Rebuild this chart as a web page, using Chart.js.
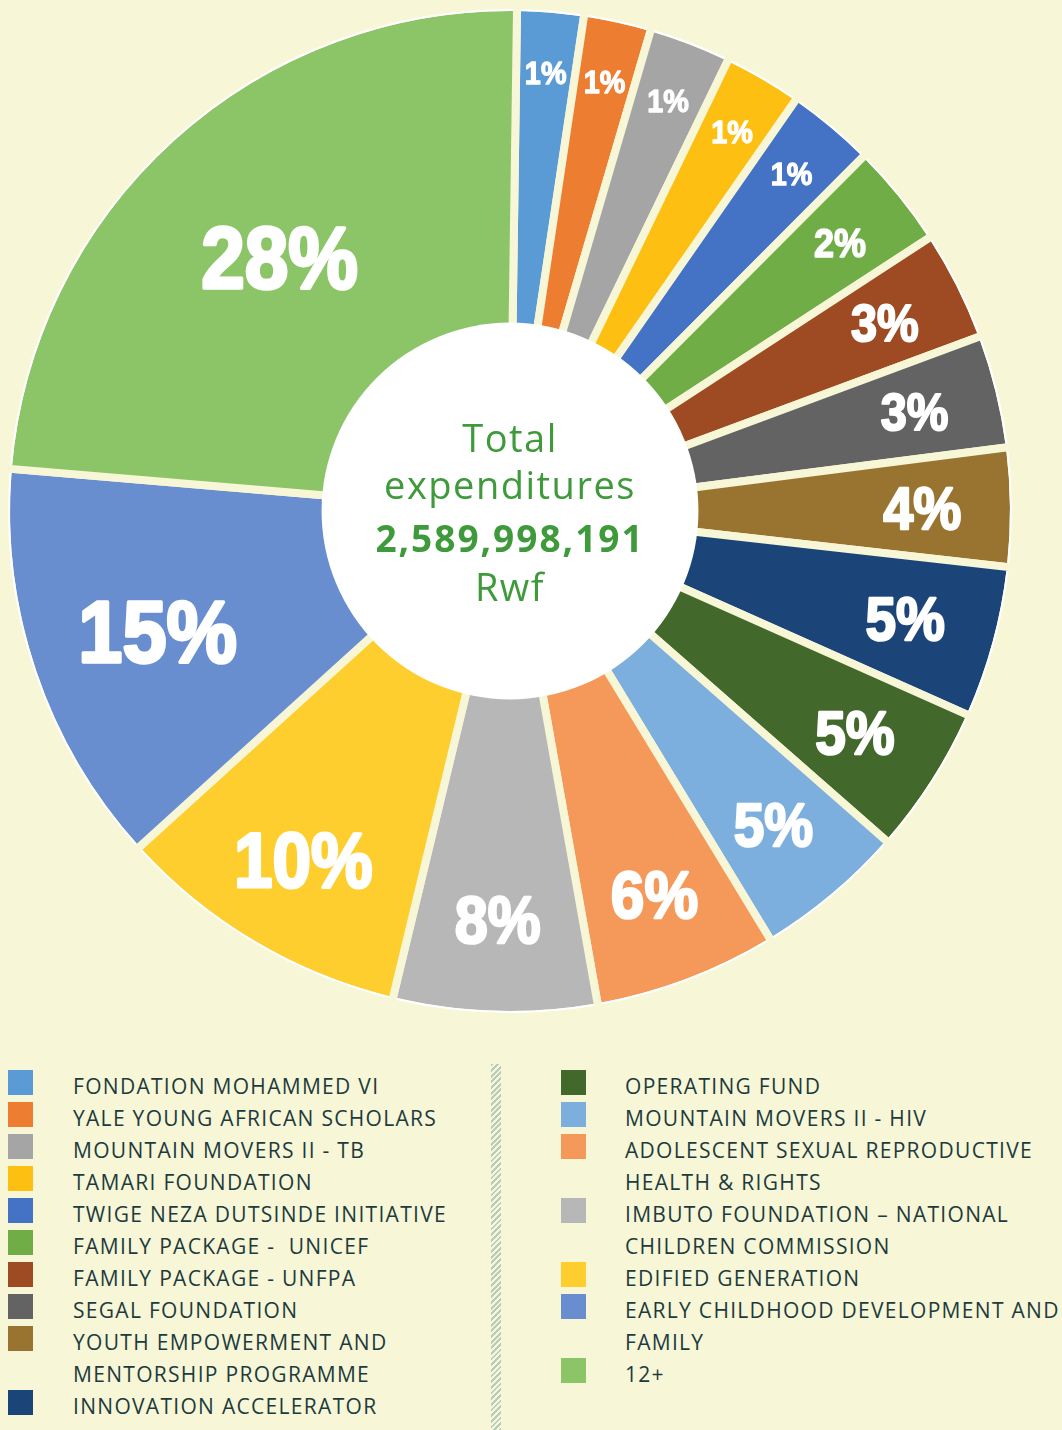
<!DOCTYPE html>
<html><head><meta charset="utf-8">
<script src="https://cdn.jsdelivr.net/npm/chart.js@4.4.1/dist/chart.umd.min.js"></script>
<style>
html,body{margin:0;padding:0;background:#F7F6D6;}
body{width:1062px;height:1430px;position:relative;overflow:hidden;font-family:"Open Sans",sans-serif;}
#wrap{position:absolute;left:0;top:0;width:1062px;height:1022px;}
.sq{position:absolute;width:25px;height:25px;}
.lt{position:absolute;font-size:21px;line-height:21px;color:#1d3b3e;white-space:pre;letter-spacing:1.3px;}
#divider{position:absolute;left:491px;top:1064px;width:10px;height:366px;
  background:repeating-linear-gradient(135deg,#b5cdbd 0 2px,rgba(0,0,0,0) 2px 4px);}
</style></head><body>
<div id="wrap"><canvas id="c" width="1062" height="1022"></canvas></div>
<div id="legend"></div>
<div id="divider"></div>
<script>
// ---- data ----
const categories = [
  "FONDATION MOHAMMED VI",
  "YALE YOUNG AFRICAN SCHOLARS",
  "MOUNTAIN MOVERS II - TB",
  "TAMARI FOUNDATION",
  "TWIGE NEZA DUTSINDE INITIATIVE",
  "FAMILY PACKAGE -  UNICEF",
  "FAMILY PACKAGE - UNFPA",
  "SEGAL FOUNDATION",
  "YOUTH EMPOWERMENT AND\nMENTORSHIP PROGRAMME",
  "INNOVATION ACCELERATOR",
  "OPERATING FUND",
  "MOUNTAIN MOVERS II - HIV",
  "ADOLESCENT SEXUAL REPRODUCTIVE\nHEALTH & RIGHTS",
  "IMBUTO FOUNDATION \u2013 NATIONAL\nCHILDREN COMMISSION",
  "EDIFIED GENERATION",
  "EARLY CHILDHOOD DEVELOPMENT AND\nFAMILY",
  "12+"
];
// share of total expenditures (%), as drawn
const shares = [2.14, 2.17, 2.64, 2.50, 2.81, 3.33, 3.53, 3.64, 3.81, 4.89, 4.78, 4.86, 5.89, 6.56, 9.53, 13.06, 23.89];
// printed labels
const pctLabels = ["1%","1%","1%","1%","1%","2%","3%","3%","4%","5%","5%","5%","6%","8%","10%","15%","28%"];
const colors = ["#5B9BD5","#ED7D31","#A5A5A5","#FDC012","#4472C4","#70AD47","#9E4A22","#636363","#997430",
  "#1B4479","#43682B","#7CAFDD","#F4995A","#B7B7B7","#FECE2F","#698ED0","#8CC468"];
const totalLines = ["Total","expenditures"];
const totalAmount = "2,589,998,191";
const totalUnit = "Rwf";
const leftCount = 10;

// ---- styles ----
const BG = "#F7F6D6";
const GREEN = "#3F9A3B";
const BW = 8;
const labelSize = {1:32, 2:40, 3:52, 4:60, 5:61, 6:67, 8:66, 10:77, 15:88, 28:87};
function radiusFrac(deg){
  const pts=[[0,0.88],[10,0.88],[14,0.82],[30,0.815],[35,0.81],[47,0.744],[86,0.686],[360,0.686]];
  for(let i=1;i<pts.length;i++){
    if(deg<=pts[i][0]){const [x0,y0]=pts[i-1],[x1,y1]=pts[i];return y0+(y1-y0)*(deg-x0)/(x1-x0);}
  }
  return 0.686;
}

const decor = {
  id:'decor',
  afterDatasetsDraw(chart){
    const ctx = chart.ctx;
    const arcs = chart.getDatasetMeta(0).data;
    ctx.save();
    // thin white outer rim on each slice
    arcs.forEach(a=>{
      const r = a.outerRadius - BW/2 + 1;
      const d = (BW/2)/r;
      ctx.beginPath();
      ctx.arc(a.x, a.y, r, a.startAngle + d, a.endAngle - d);
      ctx.strokeStyle = '#ffffff'; ctx.lineWidth = 2; ctx.stroke();
    });
    // white hole
    const a0 = arcs[0];
    ctx.beginPath();
    ctx.arc(a0.x, a0.y, a0.innerRadius + 7, 0, Math.PI*2);
    ctx.fillStyle = '#ffffff'; ctx.fill();
    // percentage labels
    arcs.forEach((a,i)=>{
      const txt = pctLabels[i];
      const p = parseInt(txt,10);
      const size = labelSize[p] || 60;
      const mid = (a.startAngle + a.endAngle)/2;
      const deg = (a.endAngle - a.startAngle)*180/Math.PI;
      const R = (a.outerRadius - BW/2) * radiusFrac(deg);
      const cx = a.x + Math.cos(mid)*R;
      const cy = a.y + Math.sin(mid)*R;
      ctx.save();
      ctx.translate(cx, cy);
      ctx.scale(0.9, 1);
      ctx.font = `bold ${size}px "Liberation Sans", Arial, sans-serif`;
      ctx.textAlign = 'center';
      ctx.textBaseline = 'alphabetic';
      ctx.fillStyle = '#ffffff';
      ctx.strokeStyle = '#ffffff';
      ctx.lineWidth = size*0.04;
      ctx.lineJoin = 'round';
      const by = size*0.358;
      ctx.fillText(txt, 0, by);
      ctx.strokeText(txt, 0, by);
      ctx.restore();
    });
    // center text
    ctx.fillStyle = GREEN;
    ctx.textAlign = 'center';
    ctx.textBaseline = 'alphabetic';
    ctx.font = '38px "Open Sans", sans-serif';
    try{ ctx.letterSpacing = '1.5px'; }catch(e){}
    ctx.fillText(totalLines[0], a0.x, a0.y - 59);
    ctx.fillText(totalLines[1], a0.x, a0.y - 12);
    ctx.font = 'bold 37px "Open Sans", sans-serif';
    try{ ctx.letterSpacing = '2px'; }catch(e){}
    ctx.fillText(totalAmount, a0.x, a0.y + 41);
    ctx.font = '38px "Open Sans", sans-serif';
    try{ ctx.letterSpacing = '1.5px'; }catch(e){}
    ctx.fillText(totalUnit, a0.x, a0.y + 90);
    ctx.restore();
  }
};

new Chart(document.getElementById('c'), {
  type:'doughnut',
  data:{
    labels: categories,
    datasets:[{
      data: shares,
      backgroundColor: colors,
      borderColor: BG,
      borderWidth: BW,
      hoverBorderWidth: BW,
      hoverOffset: 0,
      borderAlign: 'center'
    }]
  },
  options:{
    responsive:false,
    animation:false,
    events:[],
    rotation:0.8,
    radius:504,
    cutout:'36%',
    layout:{padding:{left:0,right:42,top:0,bottom:0}},
    plugins:{legend:{display:false},tooltip:{enabled:false}}
  },
  plugins:[decor]
});

// ---- legend (HTML) ----
const legend = document.getElementById('legend');
const ROW0 = 1095, ROWH = 32;
function addColumn(from, to, sqX, txtX){
  let row = 0;
  for(let i=from;i<to;i++){
    const lines = categories[i].split('\n');
    const sq = document.createElement('div');
    sq.className='sq';
    sq.style.left = sqX+'px';
    sq.style.top = (ROW0 + row*ROWH - 25)+'px';
    sq.style.background = colors[i];
    legend.appendChild(sq);
    lines.forEach(l=>{
      const t = document.createElement('div');
      t.className='lt';
      t.style.left = txtX+'px';
      t.style.top = (ROW0 + row*ROWH - 19)+'px';
      t.textContent = l;
      legend.appendChild(t);
      row++;
    });
  }
}
addColumn(0, leftCount, 8, 73);
addColumn(leftCount, categories.length, 561, 625);
</script>
</body></html>
